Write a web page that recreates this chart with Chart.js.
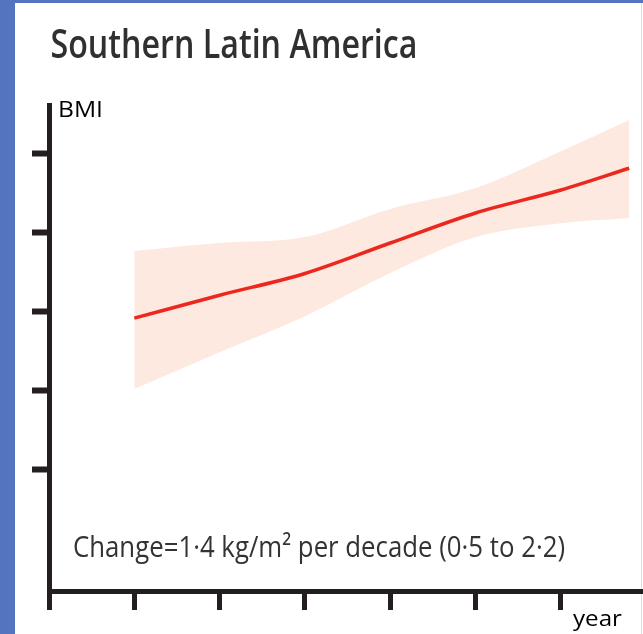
<!DOCTYPE html>
<html><head><meta charset="utf-8">
<script src="https://cdn.jsdelivr.net/npm/chart.js@4"></script>
<style>html,body{margin:0;padding:0;background:#fff;overflow:hidden}
canvas{display:block}</style></head>
<body><canvas id="c" width="643" height="634"></canvas>
<script>
// ---- data ----
const years     = [1980, 1985, 1990, 1995, 2000, 2005, 2009];
const bmiMean   = [23.84, 24.42, 24.97, 25.74, 26.50, 27.08, 27.63];
const bmiUpper  = [25.54, 25.74, 25.89, 26.60, 27.13, 28.06, 28.85];
const bmiLower  = [22.05, 22.98, 23.89, 24.98, 25.89, 26.24, 26.37];
const xTickYears  = [1975, 1980, 1985, 1990, 1995, 2000, 2005];
const yTickValues = [20, 22, 24, 26, 28];
const titleText  = 'Southern Latin America';
const noteText   = 'Change=1·4 kg/m² per decade (0·5 to 2·2)';
const yAxisLabel = 'BMI';
const xAxisLabel = 'year';

const toPts = arr => years.map((yr, i) => ({x: yr, y: arr[i]}));

function drawFitted(ctx, text, x, baseline, font, color, targetWidth) {
  ctx.save();
  ctx.font = font; ctx.fillStyle = color;
  ctx.textBaseline = 'alphabetic'; ctx.textAlign = 'left';
  const w = ctx.measureText(text).width;
  ctx.translate(x, baseline);
  ctx.scale(targetWidth / w, 1);
  ctx.fillText(text, 0, 0);
  ctx.restore();
}

const bgPlugin = {
  id: 'bg',
  beforeDraw(chart) {
    const ctx = chart.ctx;
    ctx.save();
    ctx.fillStyle = 'rgb(84,116,192)';
    ctx.fillRect(0, 0, chart.width, chart.height);
    ctx.fillStyle = '#ffffff';
    ctx.fillRect(15, 3, chart.width - 15, chart.height - 3);
    ctx.fillStyle = 'rgb(222,222,222)';
    ctx.fillRect(641, 3, 1, chart.height - 3);
    ctx.restore();
  }
};

const textPlugin = {
  id: 'texts',
  afterDraw(chart) {
    const ctx = chart.ctx;
    drawFitted(ctx, titleText, 50.5, 58, '600 39px "Open Sans"', '#303030', 367);
    drawFitted(ctx, noteText, 73, 557, '30px "Open Sans"', '#333333', 492);
    drawFitted(ctx, yAxisLabel, 58, 117, '22px "Open Sans"', '#000000', 45);
    drawFitted(ctx, xAxisLabel, 573, 626, '22px "Open Sans"', '#000000', 49);
  }
};

new Chart(document.getElementById('c'), {
  type: 'line',
  data: {
    datasets: [
      { label: 'mean', data: toPts(bmiMean), borderColor: 'rgb(236,40,30)', borderWidth: 3.5,
        pointRadius: 0, fill: false, cubicInterpolationMode: 'monotone' },
      { label: 'upper', data: toPts(bmiUpper), borderWidth: 0, borderColor: 'rgba(0,0,0,0)',
        pointRadius: 0, fill: false, cubicInterpolationMode: 'monotone' },
      { label: 'lower', data: toPts(bmiLower), borderWidth: 0, borderColor: 'rgba(0,0,0,0)',
        pointRadius: 0, fill: 1, backgroundColor: 'rgb(253,233,223)', cubicInterpolationMode: 'monotone' }
    ]
  },
  options: {
    responsive: false,
    animation: false,
    layout: { padding: { left: 32, top: 105, right: 0, bottom: 24 } },
    plugins: { legend: { display: false }, tooltip: { enabled: false }, title: { display: false } },
    scales: {
      x: {
        type: 'linear', position: 'bottom', min: 1975, max: 2009.81,
        afterBuildTicks: s => { s.ticks = xTickYears.map(v => ({ value: v })); },
        ticks: { display: false },
        border: { display: true, color: '#231f20', width: 5 },
        grid: { display: true, drawOnChartArea: false, drawTicks: true, tickLength: 19,
                tickWidth: 5, tickColor: '#231f20' }
      },
      y: {
        type: 'linear', position: 'left', min: 16.94, max: 29.23,
        afterBuildTicks: s => { s.ticks = yTickValues.map(v => ({ value: v })); },
        ticks: { display: false },
        border: { display: true, color: '#231f20', width: 5 },
        grid: { display: true, drawOnChartArea: false, drawTicks: true, tickLength: 17,
                tickWidth: 6, tickColor: '#231f20' }
      }
    }
  },
  plugins: [bgPlugin, textPlugin]
});
</script>
</body></html>
